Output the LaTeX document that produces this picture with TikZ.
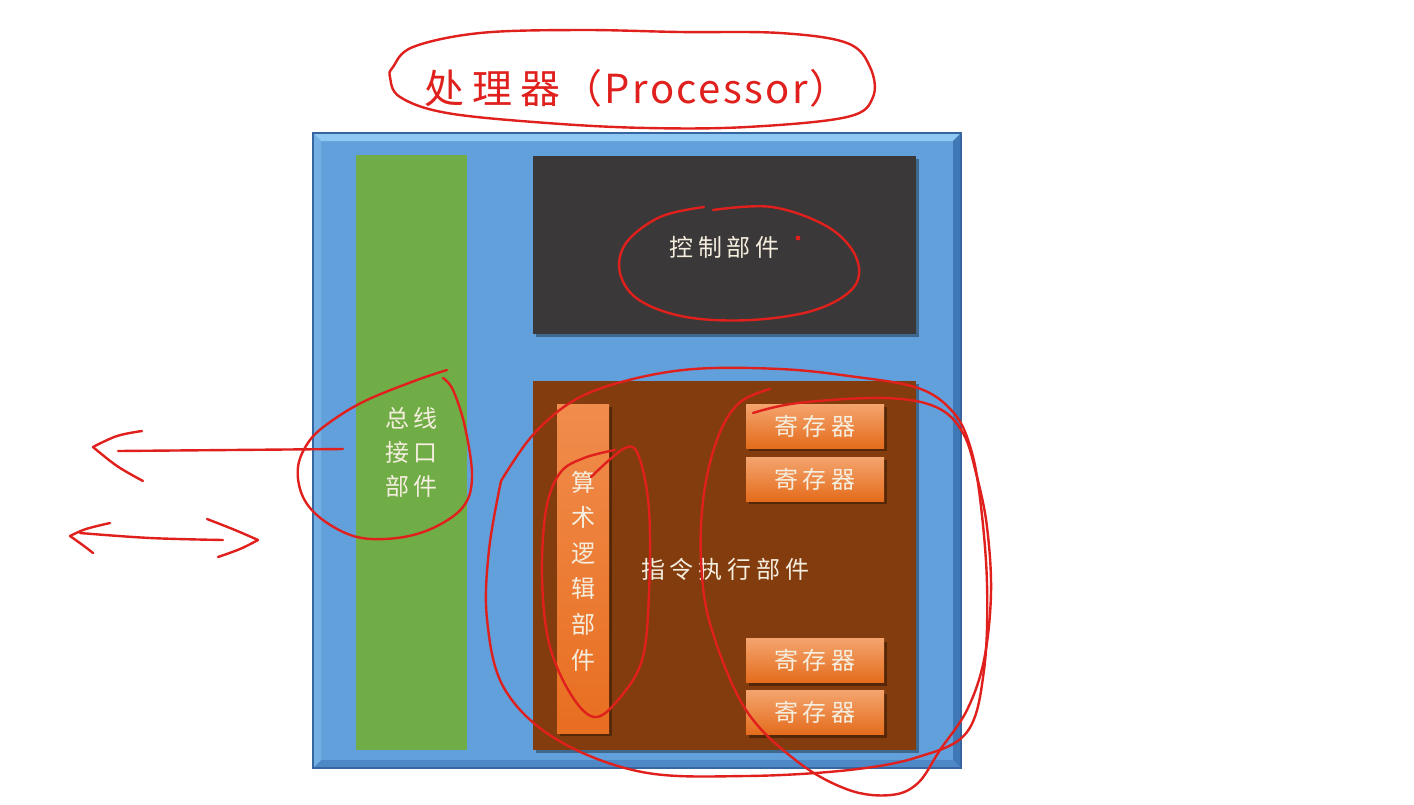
\documentclass[tikz,border=0pt]{standalone}
\usepackage{fontspec}
\setmainfont{Noto Sans CJK SC}
\newfontfamily\cjk[LetterSpace=20]{Noto Sans CJK SC}
\newfontfamily\titlefont[LetterSpace=6]{Noto Sans CJK SC}
\usetikzlibrary{positioning,shadows}

\definecolor{cpublue}{HTML}{62A0DC}
\definecolor{cpuedge}{HTML}{3566A0}
\definecolor{bevtop}{HTML}{8FC8F2}
\definecolor{bevright}{HTML}{3F78B5}
\definecolor{bevbot}{HTML}{4E88C6}
\definecolor{bevleft}{HTML}{74AFE4}
\definecolor{busgreen}{HTML}{70AD47}
\definecolor{ctrlgrey}{HTML}{3A3838}
\definecolor{exebrown}{HTML}{823C0D}
\definecolor{regtop}{HTML}{F4A46E}
\definecolor{regbot}{HTML}{E46C1C}
\definecolor{alutop}{HTML}{F08C4C}
\definecolor{alubot}{HTML}{E86E20}
\definecolor{labelwhite}{HTML}{F5EEDF}
\definecolor{inkred}{HTML}{E0201C}

\begin{document}
\begin{tikzpicture}[x=0.5pt, y=-0.5pt,
    panel/.style={draw=none, inner sep=0pt, outer sep=0pt},
    txt/.style={text=labelwhite, align=center, inner sep=0pt, font=\cjk\fontsize{12}{17}\selectfont},
    shade box/.style={drop shadow={shadow xshift=1.5pt, shadow yshift=-1.5pt, fill=black, opacity=0.35}},
    reg/.style={panel, shade box, top color=regtop, bottom color=regbot, minimum width=69pt, minimum height=22pt, txt},
    ink/.style={draw=inkred, line width=1.2pt, line cap=round, line join=round}]
\fill[white] (0,0) rectangle (1414,804);
\useasboundingbox (0,0) rectangle (1414,804);

% processor frame with bevelled edge
\node[panel, fill=cpublue, draw=cpuedge, line width=0.6pt, minimum width=324pt, minimum height=317.5pt] (cpu) at (637,450.5) {};
\fill[bevtop] (cpu.north west) -- (cpu.north east) -- ([xshift=-4pt,yshift=-4pt]cpu.north east) -- ([xshift=4pt,yshift=-4pt]cpu.north west) -- cycle;
\fill[bevright] (cpu.north east) -- (cpu.south east) -- ([xshift=-4pt,yshift=4pt]cpu.south east) -- ([xshift=-4pt,yshift=-4pt]cpu.north east) -- cycle;
\fill[bevbot] (cpu.south west) -- (cpu.south east) -- ([xshift=-4pt,yshift=4pt]cpu.south east) -- ([xshift=4pt,yshift=4pt]cpu.south west) -- cycle;
\fill[bevleft] (cpu.north west) -- (cpu.south west) -- ([xshift=4pt,yshift=4pt]cpu.south west) -- ([xshift=4pt,yshift=-4pt]cpu.north west) -- cycle;
\draw[cpuedge, line width=0.6pt] (cpu.north west) rectangle (cpu.south east);

% units
\node[panel, fill=busgreen, minimum width=55.5pt, minimum height=297.5pt] (bus) at (411.5,452.5) {};
\node[txt] (bustext) at (bus) {总线\\接口\\部件};
\node[panel, shade box, fill=ctrlgrey, minimum width=191.5pt, minimum height=89pt] (ctrl) at (724.5,245) {};
\node[txt] (ctrltext) at (724.5,247) {控制部件};
\node[panel, shade box, fill=exebrown, minimum width=191.5pt, minimum height=184.5pt] (exe) at (724.5,565.5) {};
\node[txt] (exetext) at (725,569) {指令执行部件};
\node[panel, shade box, top color=alutop, bottom color=alubot, minimum width=26pt, minimum height=164.5pt] (alu) at (583,568.5) {};
\node[txt, font=\cjk\fontsize{12}{17.8}\selectfont] (alutext) at (583.5,571) {算\\术\\逻\\辑\\部\\件};
\node[reg] (reg1) at (815,426) {寄存器};
\node[reg, below=4.5pt of reg1] (reg2) {寄存器};
\node[reg] (reg3) at (815,660.5) {寄存器};
\node[reg, below=4pt of reg3] (reg4) {寄存器};

% title
\node[text=inkred, inner sep=0pt, font=\titlefont\fontsize{20}{24}\selectfont] (title) at (637,88) {处\hspace{4pt}理\hspace{4pt}器（Processor）};

% hand-drawn red marks
\draw[ink] plot[smooth cycle, tension=0.6] coordinates {(393,67) (413,47) (480,33) (580,30) (680,32) (780,33) (847,43) (870,67) (873,97) (847,117) (747,127) (647,128) (547,123) (447,113) (400,97) (390,77)};
\draw[ink] plot[smooth, tension=0.6] coordinates {(713,210) (772,207) (828,227) (856,257) (854,287) (815,310) (751,320) (686,317) (639,300) (620,273) (626,243) (660,217) (704,207)};
\fill[inkred] (798,238) circle (1.2pt);
\draw[ink] plot[smooth, tension=0.6] coordinates {(447,370) (417,380) (367,400) (333,420) (310,440) (298,467) (303,497) (323,520) (357,537) (397,538) (433,528) (463,507) (472,477) (465,427) (453,390) (443,378)};
\draw[ink] plot[smooth, tension=0.6] coordinates {(501,481) (532,436) (573,401) (625,381) (694,369) (780,369) (849,376) (918,388) (953,412) (970,446) (980,498) (987,584) (984,670) (967,732) (918,757) (849,770) (746,776) (642,772) (556,739) (504,688) (487,619) (489,550) (501,481)};
\draw[ink] plot[smooth, tension=0.6] coordinates {(753,413) (798,403) (884,398) (936,407) (963,433) (977,477) (987,527) (991,593) (984,660) (967,710) (940,750) (918,783) (891,795) (849,790) (798,762) (746,710) (711,627) (701,560) (704,493) (718,437) (739,403) (770,389)};
\draw[ink] plot[smooth, tension=0.6] coordinates {(591,477) (625,448) (639,457) (649,510) (649,593) (642,660) (618,700) (594,717) (570,693) (549,643) (542,577) (546,510) (560,473) (584,458) (615,450)};

% bus arrows
\coordinate (busport) at (343,449);
\coordinate (busout) at (118,451);
\coordinate (tipout) at (93,447);
\draw[ink] (busport) -- (busout);
\draw[ink] plot[smooth, tension=0.6] coordinates {(142,431) (117,436) (tipout)};
\draw[ink] plot[smooth, tension=0.6] coordinates {(tipout) (117,466) (143,481)};
\coordinate (bothL) at (80,533);
\coordinate (bothR) at (223,540);
\coordinate (tipL) at (70,536);
\coordinate (tipR) at (258,540);
\draw[ink] plot[smooth, tension=0.6] coordinates {(bothL) (150,538) (bothR)};
\draw[ink] plot[smooth, tension=0.6] coordinates {(110,523) (86,529) (tipL)};
\draw[ink] plot[smooth, tension=0.6] coordinates {(tipL) (84,546) (93,553)};
\draw[ink] plot[smooth, tension=0.6] coordinates {(207,519) (235,530) (tipR)};
\draw[ink] plot[smooth, tension=0.6] coordinates {(tipR) (240,549) (218,557)};
\end{tikzpicture}
\end{document}
